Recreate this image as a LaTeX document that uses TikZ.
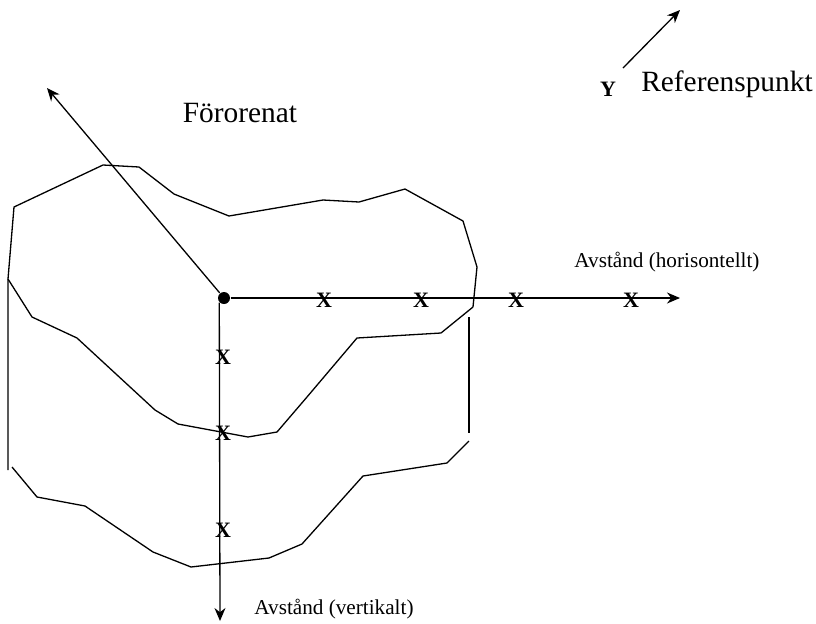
\documentclass[tikz,border=0pt]{standalone}
\usepackage{fontspec}
\setmainfont{Liberation Serif}
\usetikzlibrary{arrows.meta}

\tikzset{
    bigtext/.style={inner sep=0pt, anchor=base, font=\fontsize{14.7}{16}\selectfont},
    axistext/.style={inner sep=0pt, anchor=base, font=\fontsize{10.6}{12}\selectfont},
    xmark/.style={inner sep=0pt, anchor=base, font=\fontsize{11}{12}\selectfont\bfseries},
}

\begin{document}
\begin{tikzpicture}[x=0.5pt, y=-0.5pt, line width=0.65pt, >={Stealth[length=6.5pt, width=5.5pt]}]
    \useasboundingbox (0,0) rectangle (816,623);

    % outer boundary of the polluted area
    \draw (8,470) -- (8,279) -- (14,207) -- (103,165) -- (139,167) -- (174,194)
        -- (229,216) -- (323,200) -- (359,202) -- (405,189) -- (463,221)
        -- (477,267) -- (473,307);
    % middle contour
    \draw (8,279) -- (32,317) -- (77,338) -- (155,410) -- (178,424) -- (248,437)
        -- (277,432) -- (307,397) -- (357,338) -- (441,333) -- (473,307);
    \draw (469,317) -- (469,433);
    % lower contour
    \draw (12,467) -- (37,497) -- (85,506) -- (153,552) -- (191,567) -- (269,558)
        -- (302,544) -- (363,476) -- (447,463) -- (469,441);

    % origin and axes
    \node[circle, fill, inner sep=0pt, minimum size=6pt] (O) at (224,298) {};
    \coordinate (hend) at (680,298);
    \coordinate (vend) at (220,621);
    \coordinate (dend) at (47,88);
    \draw[->] (O) -- (hend);
    \draw[->] (O.south west) -- (vend);
    \draw[->] (O) -- (dend);

    % reference point
    \coordinate (rfoot) at (623,68);
    \coordinate (rtip) at (680,10);
    \draw[->] (rfoot) -- (rtip);
    \node[xmark] (Y) at (608,96) {Y};
    \node[bigtext] (ref) at (727,91) {Referenspunkt};

    \node[bigtext] (poll) at (240,122) {Förorenat};
    \node[axistext] (hlab) at (667,267) {Avstånd (horisontellt)};
    \node[axistext] (vlab) at (334,614) {Avstånd (vertikalt)};

    % sample points
    \node[xmark] (h1) at (324,307) {X};
    \node[xmark] (h2) at (421,307) {X};
    \node[xmark] (h3) at (516,307) {X};
    \node[xmark] (h4) at (631,307) {X};
    \node[xmark] (v1) at (223,364) {X};
    \node[xmark] (v2) at (223,440) {X};
    \node[xmark] (v3) at (223,537) {X};
\end{tikzpicture}
\end{document}
